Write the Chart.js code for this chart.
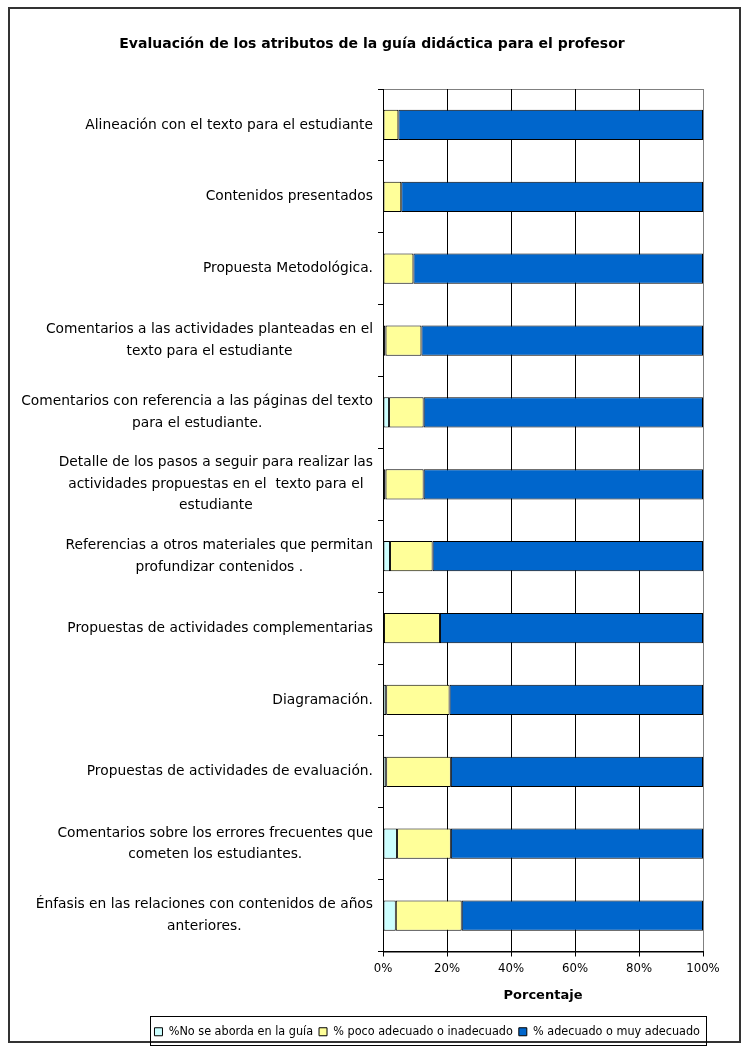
<!DOCTYPE html>
<html>
<head>
<meta charset="utf-8">
<script src="https://cdn.jsdelivr.net/npm/chart.js@4/dist/chart.umd.min.js"></script>
<style>
html,body{margin:0;padding:0;background:#fff;}
#wrap{width:747px;height:1051px;position:relative;}
</style>
</head>
<body>
<div id="wrap"><canvas id="c" width="747" height="1051"></canvas></div>
<script>
const chartTitle = 'Evaluación de los atributos de la guía didáctica para el profesor';
const axisTitle = 'Porcentaje';
const categories = [
  ['Alineación con el texto para el estudiante'],
  ['Contenidos presentados'],
  ['Propuesta Metodológica.'],
  ['Comentarios a las actividades planteadas en el', 'texto para el estudiante'],
  ['Comentarios con referencia a las páginas del texto', 'para el estudiante.'],
  ['Detalle de los pasos a seguir para realizar las', 'actividades propuestas en el  texto para el', 'estudiante'],
  ['Referencias a otros materiales que permitan', 'profundizar contenidos .'],
  ['Propuestas de actividades complementarias'],
  ['Diagramación.'],
  ['Propuestas de actividades de evaluación.'],
  ['Comentarios sobre los errores frecuentes que', 'cometen los estudiantes.'],
  ['Énfasis en las relaciones con contenidos de años', 'anteriores.']
];
const seriesNames = ['%No se aborda en la guía', '% poco adecuado o inadecuado', '% adecuado o muy adecuado'];
const noAborda     = [0,    0,    0,    0.8,  1.9,  0.8,  2.2,  0.3,  1.0,  1.0,  4.4,  4.0];
const pocoAdecuado = [4.8,  5.7,  9.5,  11.2, 10.8, 11.9, 13.3, 17.5, 19.8, 20.2, 16.8, 20.6];
const adecuado     = [95.2, 94.3, 90.5, 88.0, 87.3, 87.3, 84.5, 82.2, 79.2, 78.8, 78.8, 75.4];
const xTicks = [0, 20, 40, 60, 80, 100];

const FONT = '"DejaVu Sans", sans-serif';
const FONTC = '"DejaVu Sans Condensed", "DejaVu Sans", sans-serif';
const colors = ['#CCFFFF', '#FFFF99', '#0066CC'];

const frame = {
  id: 'frame',
  beforeDraw(chart) {
    const ctx = chart.ctx;
    ctx.save();
    ctx.fillStyle = '#fff';
    ctx.fillRect(0, 0, chart.width, chart.height);
    ctx.strokeStyle = '#333';
    ctx.lineWidth = 2;
    ctx.strokeRect(9, 8, 731, 1034);
    const a = chart.chartArea;
    ctx.strokeStyle = '#808080';
    ctx.lineWidth = 1;
    ctx.strokeRect(Math.round(a.left) + 0.5, Math.round(a.top) + 0.5, Math.round(a.right - a.left), Math.round(a.bottom - a.top));
    ctx.restore();
  },
  afterDraw(chart) {
    const ctx = chart.ctx;
    const ys = chart.scales.y;
    ctx.save();
    ctx.fillStyle = '#000';
    ctx.textAlign = 'center';
    ctx.textBaseline = 'middle';
    // title
    ctx.font = 'bold 14px ' + FONT;
    ctx.fillText(chartTitle, 372, 44);
    // category labels: right-aligned blocks, centred lines
    ctx.font = '13.8px ' + FONT;
    const lh = 21.5;
    const right = chart.chartArea.left - 10;
    categories.forEach((lines, i) => {
      const y = ys.getPixelForValue(i);
      const w = Math.max(...lines.map(l => ctx.measureText(l).width));
      const cx = right - w / 2;
      lines.forEach((l, j) => {
        ctx.fillText(l, cx, y + (j - (lines.length - 1) / 2) * lh);
      });
    });
    // legend frame
    const lg = chart.legend;
    if (lg && lg.legendHitBoxes && lg.legendHitBoxes.length) {
      const hb = lg.legendHitBoxes;
      const l = Math.min(...hb.map(b => b.left)) - 4;
      const r = Math.max(...hb.map(b => b.left + b.width)) + 6;
      const t = hb[0].top - 10;
      const h = 29;
      ctx.strokeStyle = '#000';
      ctx.lineWidth = 1;
      ctx.strokeRect(Math.round(l) + 0.5, Math.round(t) + 0.5, Math.round(r - l), h);
    }
    ctx.restore();
  }
};

new Chart(document.getElementById('c'), {
  type: 'bar',
  data: {
    labels: categories,
    datasets: [
      { label: seriesNames[0], data: noAborda, backgroundColor: colors[0] },
      { label: seriesNames[1], data: pocoAdecuado, backgroundColor: colors[1] },
      { label: seriesNames[2], data: adecuado, backgroundColor: colors[2] }
    ].map(d => Object.assign(d, { borderColor: '#000', borderWidth: 1, borderSkipped: false, categoryPercentage: 1, barPercentage: 0.42 }))
  },
  options: {
    indexAxis: 'y',
    responsive: false,
    animation: false,
    devicePixelRatio: 1,
    layout: { padding: { left: 0, right: 41, top: 89, bottom: 3 } },
    scales: {
      x: {
        stacked: true,
        min: 0, max: 100,
        afterBuildTicks: s => { s.ticks = xTicks.map(v => ({ value: v })); },
        ticks: { callback: v => v + '%', color: '#000', font: { family: FONTC, size: 13 }, padding: 4, maxRotation: 0 },
        grid: {
          color: c => (c.tick && c.tick.value === 100) ? '#808080' : '#000',
          lineWidth: 1,
          drawTicks: true,
          tickLength: 5,
          tickColor: '#000'
        },
        border: { color: '#000', width: 1 },
        title: { display: true, text: axisTitle, color: '#000', font: { family: FONT, size: 13, weight: 'bold' }, padding: { top: 8, bottom: 16 } },
        afterFit: s => { s.height = 68; }
      },
      y: {
        stacked: true,
        ticks: { color: 'rgba(0,0,0,0)', font: { family: FONT, size: 13 } },
        grid: { offset: true, drawOnChartArea: false, drawTicks: true, tickLength: 5, tickColor: '#000' },
        border: { color: '#000', width: 1 },
        afterFit: s => { s.width = 383; }
      },
      yR: {
        type: 'linear',
        position: 'right',
        display: true,
        min: 0, max: 1,
        grid: { display: false, drawTicks: false },
        ticks: { display: false },
        border: { display: false },
        afterFit: s => { s.width = 3; }
      }
    },
    plugins: {
      title: { display: false },
      legend: {
        position: 'bottom',
        align: 'end',
        labels: { color: '#000', font: { family: FONTC, size: 12.5 }, boxWidth: 8, boxHeight: 8, padding: 6, useBorderRadius: false },
      },
      tooltip: { enabled: false }
    }
  },
  plugins: [frame]
});
</script>
</body>
</html>
